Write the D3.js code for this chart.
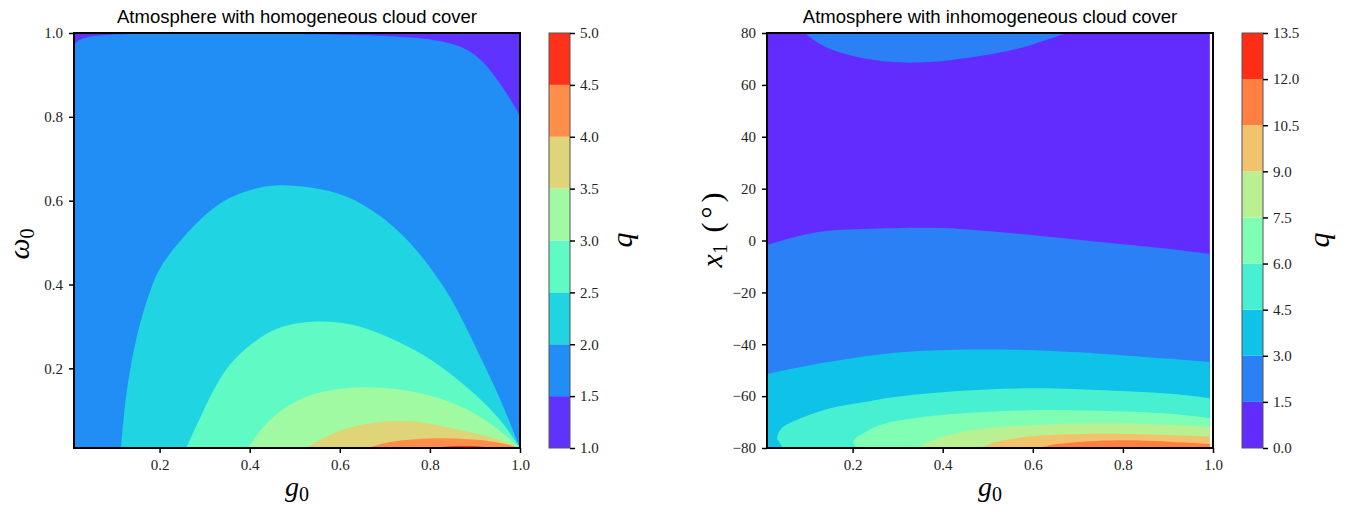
<!DOCTYPE html>
<html>
<head>
<meta charset="utf-8">
<script src="https://cdn.jsdelivr.net/npm/d3@7"></script>
<style>
body { margin: 0; background: #fff; }
.tick text { font-family: "Liberation Serif", serif; font-size: 15px; fill: #222; }
.title { font-family: "Liberation Sans", Arial, sans-serif; font-size: 18.5px; fill: #000; }
.math { font-family: "Liberation Serif", serif; fill: #000; }
</style>
</head>
<body>
<div id="chart"></div>
<script>
// ---- homogeneous cloud cover (left panel) ----
const homLevels = [1.0, 1.5, 2.0, 2.5, 3.0, 3.5, 4.0, 4.5, 5.0];
const homTicksX = [0.2, 0.4, 0.6, 0.8, 1.0];
const homTicksY = [0.2, 0.4, 0.6, 0.8, 1.0];
// contour lines, [g0, omega0]
const hom_q15 = [[0.01, 0.971], [0.02, 0.982], [0.04, 0.99], [0.08, 0.995], [0.18, 0.998], [0.4, 0.998],
  [0.6, 0.996], [0.7, 0.993], [0.76, 0.989], [0.81, 0.983], [0.85, 0.974], [0.885, 0.958], [0.918, 0.93],
  [0.945, 0.895], [0.968, 0.86], [0.988, 0.825], [1.0, 0.80]];
const hom_q20 = [[0.114, 0.01], [0.122, 0.1], [0.134, 0.193], [0.155, 0.3], [0.182, 0.393], [0.221, 0.471],
  [0.307, 0.571], [0.383, 0.619], [0.456, 0.636], [0.538, 0.631], [0.614, 0.61], [0.691, 0.562],
  [0.769, 0.483], [0.845, 0.369], [0.902, 0.25], [0.951, 0.138], [1.0, 0.01]];
const hom_q25 = [[0.259, 0.01], [0.297, 0.098], [0.345, 0.193], [0.403, 0.257], [0.469, 0.298], [0.556, 0.312],
  [0.643, 0.3], [0.729, 0.264], [0.807, 0.217], [0.882, 0.155], [0.951, 0.083], [1.0, 0.01]];
const hom_q30 = [[0.396, 0.01], [0.432, 0.062], [0.485, 0.11], [0.558, 0.143], [0.664, 0.155], [0.769, 0.143],
  [0.858, 0.114], [0.933, 0.069], [1.0, 0.01]];
const hom_q35 = [[0.525, 0.01], [0.582, 0.043], [0.642, 0.064], [0.709, 0.074], [0.783, 0.071], [0.858, 0.055],
  [0.933, 0.036], [1.0, 0.01]];
const hom_q40 = [[0.66, 0.01], [0.709, 0.024], [0.769, 0.031], [0.828, 0.033], [0.888, 0.031], [0.948, 0.024],
  [1.0, 0.01]];
const hom_q45 = [[0.80, 0.01], [0.85, 0.014], [0.9, 0.014], [0.94, 0.01]];

// ---- inhomogeneous cloud cover (right panel) ----
const inhLevels = [0.0, 1.5, 3.0, 4.5, 6.0, 7.5, 9.0, 10.5, 12.0, 13.5];
const inhTicksX = [0.2, 0.4, 0.6, 0.8, 1.0];
const inhTicksY = [-80, -60, -40, -20, 0, 20, 40, 60, 80];
// [g0, x1 in degrees]
const inh_q15top = [[0.094, 80], [0.139, 74.7], [0.206, 70.9], [0.274, 69.0], [0.343, 68.6], [0.42, 69.6],
  [0.518, 72.2], [0.596, 75.4], [0.674, 80]];
const inh_q15 = [[0.01, -1.7], [0.109, 2.8], [0.206, 4.3], [0.343, 4.9], [0.45, 4.3], [0.596, 2.1],
  [0.743, -0.5], [0.889, -3.0], [0.993, -5.2]];
const inh_q30 = [[0.01, -51.5], [0.108, -48.0], [0.206, -45.2], [0.323, -42.9], [0.479, -42.0], [0.644, -42.6],
  [0.79, -44.1], [0.888, -45.4], [0.993, -46.8]];
const inh_q45 = [[0.046, -80], [0.035, -77.2], [0.033, -75.4], [0.043, -72.3], [0.076, -69.2], [0.15, -64.7],
  [0.223, -62.4], [0.298, -60.2], [0.446, -57.9], [0.594, -57.0], [0.742, -57.6], [0.89, -58.9], [0.993, -60.8]];
const inh_q60 = [[0.209, -80], [0.202, -77.6], [0.212, -75.4], [0.224, -74.3], [0.261, -71.1], [0.335, -68.5],
  [0.446, -66.6], [0.594, -65.4], [0.742, -65.6], [0.89, -66.6], [0.993, -68.5]];
const inh_q75 = [[0.353, -80], [0.357, -78.8], [0.387, -76.3], [0.446, -73.7], [0.52, -72.0], [0.631, -70.9],
  [0.742, -70.5], [0.853, -70.7], [0.993, -71.8]];
const inh_q90 = [[0.483, -80], [0.505, -78.5], [0.52, -77.6], [0.594, -75.6], [0.705, -74.6], [0.816, -74.6],
  [0.993, -75.6]];
const inh_q105 = [[0.616, -80], [0.653, -78.5], [0.742, -77.3], [0.853, -77.2], [0.993, -78.5]];

// rainbow colormap at the band midpoints
const homColors = ["#6032fe", "#208ef4", "#20d4e1", "#60fac5", "#9ffaa2", "#dfd478", "#ff8e4a", "#ff3219"];
const inhColors = ["#632cfe", "#2b80f6", "#0ec3e7", "#47f0d1", "#80ffb4", "#b8f092", "#f1c36c", "#ff8042", "#ff2c16"];

const svg = d3.select("#chart").append("svg")
  .attr("width", 1358).attr("height", 510);

function drawPanel(p) {
  const x = d3.scaleLinear().domain(p.xDomain).range([p.left, p.right]);
  const y = d3.scaleLinear().domain(p.yDomain).range([p.bottom, p.top]);

  svg.append("clipPath").attr("id", p.id)
    .append("rect")
    .attr("x", p.left).attr("y", p.top)
    .attr("width", p.right - p.left).attr("height", p.bottom - p.top);

  const plot = svg.append("g").attr("clip-path", `url(#${p.id})`);
  plot.append("rect")
    .attr("x", p.left).attr("y", p.top)
    .attr("width", x(p.fillMax) - p.left).attr("height", p.bottom - p.top)
    .attr("fill", p.colors[0]);

  const line = d3.line()
    .x(d => x(d[0])).y(d => y(d[1]))
    .curve(d3.curveNatural);

  p.contours.forEach(c => {
    const first = c.points[0], last = c.points[c.points.length - 1];
    const edge = c.close === "top" ? p.yDomain[1] : p.yDomain[0];
    const d = line(c.points) + "L" + x(last[0]) + "," + y(edge) + "L" + x(first[0]) + "," + y(edge) + "Z";
    plot.append("path").attr("d", d).attr("fill", p.colors[c.band]);
  });

  // axes
  const xAxis = svg.append("g").attr("transform", `translate(0,${p.bottom})`)
    .call(d3.axisBottom(x).tickValues(p.xTicks).tickFormat(d3.format(".1f")).tickSize(5).tickPadding(6));
  const yAxis = svg.append("g").attr("transform", `translate(${p.left},0)`)
    .call(d3.axisLeft(y).tickValues(p.yTicks).tickFormat(d3.format(p.yFormat)).tickSize(5).tickPadding(6));
  [xAxis, yAxis].forEach(a => {
    a.select(".domain").remove();
    a.selectAll(".tick line").attr("stroke", "#000").attr("stroke-width", 1.5);
  });

  svg.append("rect")
    .attr("x", p.left).attr("y", p.top)
    .attr("width", p.right - p.left).attr("height", p.bottom - p.top)
    .attr("fill", "none").attr("stroke", "#000").attr("stroke-width", 2);

  svg.append("text").attr("class", "title")
    .attr("x", (p.left + p.right) / 2).attr("y", 23)
    .attr("text-anchor", "middle").text(p.title);

  // x label g0
  const xl = svg.append("text").attr("class", "math")
    .attr("x", (p.left + p.right) / 2).attr("y", 496)
    .attr("text-anchor", "middle").attr("font-size", 28);
  xl.append("tspan").attr("font-style", "italic").text("g");
  xl.append("tspan").attr("font-size", 20).attr("dy", 5).text("0");

  // y label
  const yl = svg.append("text").attr("class", "math")
    .attr("transform", `translate(${p.yLabelX},${p.yLabelY}) rotate(-90)`)
    .attr("text-anchor", "middle").attr("font-size", p.yLabelSize);
  yl.append("tspan").attr("font-style", "italic").text(p.yLabel[0]);
  yl.append("tspan").attr("font-size", 20).attr("dy", 5).text(p.yLabel[1]);
  if (p.yLabel[2]) yl.append("tspan").attr("dy", -5).attr("letter-spacing", 4).text(p.yLabel[2]);

  // colorbar
  const cb = d3.scaleLinear().domain([p.levels[0], p.levels[p.levels.length - 1]]).range([p.bottom, p.top]);
  svg.append("g").selectAll("rect")
    .data(d3.pairs(p.levels))
    .join("rect")
    .attr("x", p.cbLeft).attr("width", p.cbRight - p.cbLeft)
    .attr("y", d => cb(d[1])).attr("height", d => cb(d[0]) - cb(d[1]))
    .attr("fill", (d, i) => p.colors[i]);
  svg.append("rect")
    .attr("x", p.cbLeft).attr("y", p.top)
    .attr("width", p.cbRight - p.cbLeft).attr("height", p.bottom - p.top)
    .attr("fill", "none").attr("stroke", "#555").attr("stroke-width", 1);
  const cbAxis = svg.append("g").attr("transform", `translate(${p.cbRight},0)`)
    .call(d3.axisRight(cb).tickValues(p.levels).tickFormat(d3.format(".1f")).tickSize(5).tickPadding(5));
  cbAxis.select(".domain").remove();
  cbAxis.selectAll(".tick line").attr("stroke", "#000").attr("stroke-width", 1.5);

  svg.append("text").attr("class", "math")
    .attr("transform", `translate(${p.qLabelX},240) rotate(-90)`)
    .attr("text-anchor", "middle").attr("font-size", 30).attr("font-style", "italic")
    .text("q");
}

drawPanel({
  id: "clipHom", title: "Atmosphere with homogeneous cloud cover",
  left: 74, right: 520, top: 33, bottom: 448,
  xDomain: [0.01, 1.0], yDomain: [0.01, 1.0], fillMax: 1.0,
  xTicks: homTicksX, yTicks: homTicksY, yFormat: ".1f",
  levels: homLevels, colors: homColors,
  contours: [
    { points: hom_q15, band: 1, close: "bottom" },
    { points: hom_q20, band: 2, close: "bottom" },
    { points: hom_q25, band: 3, close: "bottom" },
    { points: hom_q30, band: 4, close: "bottom" },
    { points: hom_q35, band: 5, close: "bottom" },
    { points: hom_q40, band: 6, close: "bottom" },
    { points: hom_q45, band: 7, close: "bottom" }
  ],
  yLabel: ["ω", "0"], yLabelX: 29, yLabelY: 244, yLabelSize: 30,
  cbLeft: 549, cbRight: 570, qLabelX: 632
});

drawPanel({
  id: "clipInh", title: "Atmosphere with inhomogeneous cloud cover",
  left: 767, right: 1213, top: 33, bottom: 448,
  xDomain: [0.01, 1.0], yDomain: [-80, 80], fillMax: 0.993,
  xTicks: inhTicksX, yTicks: inhTicksY, yFormat: "d",
  levels: inhLevels, colors: inhColors,
  contours: [
    { points: inh_q15top, band: 1, close: "top" },
    { points: inh_q15, band: 1, close: "bottom" },
    { points: inh_q30, band: 2, close: "bottom" },
    { points: inh_q45, band: 3, close: "bottom" },
    { points: inh_q60, band: 4, close: "bottom" },
    { points: inh_q75, band: 5, close: "bottom" },
    { points: inh_q90, band: 6, close: "bottom" },
    { points: inh_q105, band: 7, close: "bottom" }
  ],
  yLabel: ["x", "1", " (°)"], yLabelX: 722, yLabelY: 228, yLabelSize: 30,
  cbLeft: 1242, cbRight: 1263, qLabelX: 1329
});
</script>
</body>
</html>
